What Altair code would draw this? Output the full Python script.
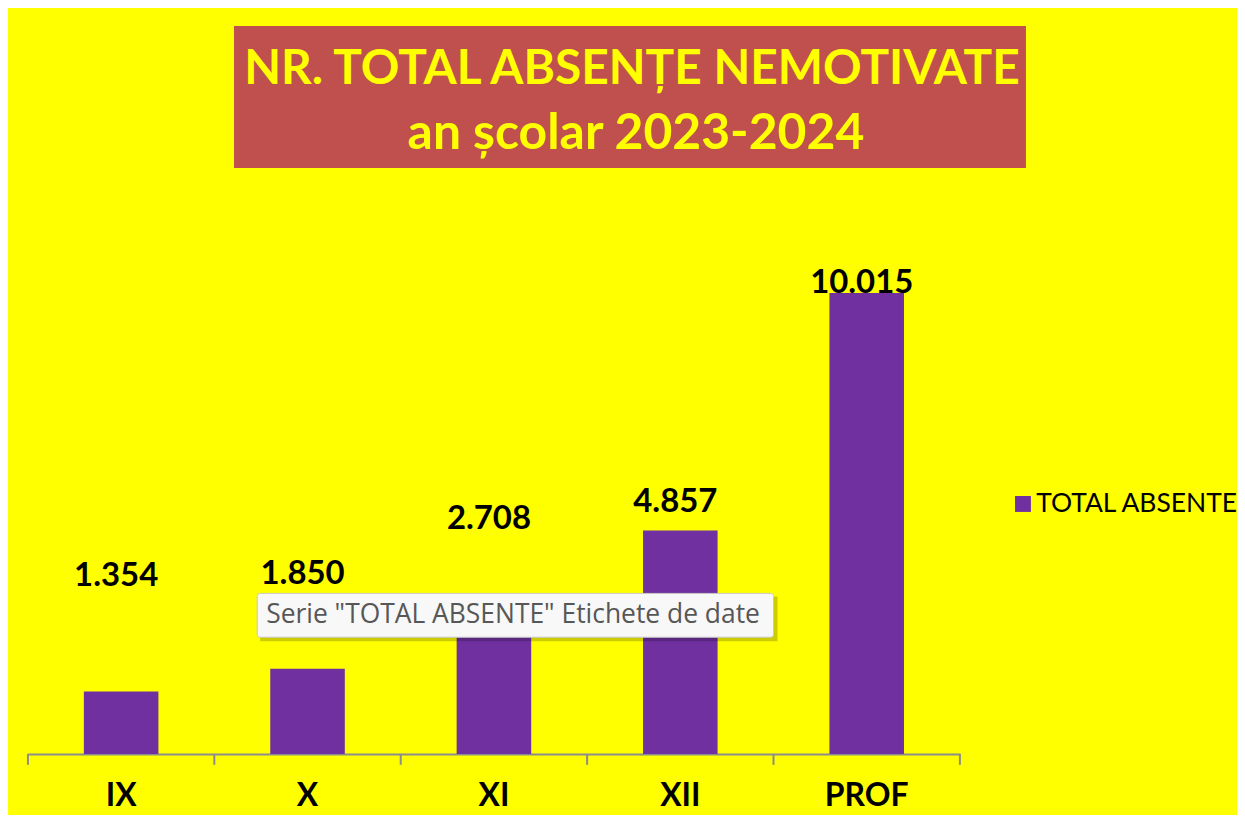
import altair as alt
import pandas as pd

categories = ["IX", "X", "XI", "XII", "PROF"]
values = [1354, 1850, 2708, 4857, 10015]
# where each (manually dragged) data label sits, in data units
label_anchor = [3640, 3690, 4880, 5250, 10016]
series_name = "TOTAL ABSENTE"
title_lines = ["NR. TOTAL ABSENȚE NEMOTIVATE", "an școlar 2023-2024"]
tooltip_text = 'Serie "TOTAL ABSENTE" Etichete de date'
tick_positions = [0, 1, 2, 3, 4, 5]

labels = [f"{v:,}".replace(",", ".") for v in values]

FONT = "Lato"
PURPLE = "#7030A0"
YELLOW = "#FFFF00"

df = pd.DataFrame({
    "cat": categories,
    "val": values,
    "anchor": label_anchor,
    "label": labels,
    "series": [series_name] * len(categories),
})

xscale = alt.Scale(paddingInner=0.6, paddingOuter=0.3)
xenc = alt.X(
    "cat:N", sort=categories, title=None, scale=xscale,
    axis=alt.Axis(labelAngle=0, ticks=False, domain=True, domainColor="#8c8c8c",
                  domainWidth=2, labelFont=FONT, labelFontSize=32,
                  labelFontWeight="bold", labelColor="black", labelPadding=27,
                  grid=False),
)
yscale = alt.Scale(domain=[0, 12000])

bars = alt.Chart(df).mark_bar(color=PURPLE).encode(
    x=xenc,
    y=alt.Y("val:Q", scale=yscale, axis=None),
    color=alt.Color("series:N", scale=alt.Scale(range=[PURPLE]),
                    legend=alt.Legend(orient="none", legendX=985, legendY=290,
                                      title=None, symbolType="square",
                                      symbolSize=256, symbolStrokeWidth=0,
                                      labelFont=FONT, labelFontSize=26.5,
                                      labelColor="black", labelOffset=0,
                                      labelLimit=0, padding=0)),
)

value_labels = alt.Chart(df).mark_text(
    font=FONT, fontSize=33, fontWeight="bold", color="black",
    baseline="alphabetic", dx=-5,
).encode(
    x=alt.X("cat:N", sort=categories, scale=xscale),
    y=alt.Y("anchor:Q", scale=yscale),
    text="label:N",
)

main = alt.layer(bars, value_labels)

ticks = alt.Chart(pd.DataFrame({"pos": tick_positions})).mark_rule(
    color="#8c8c8c", strokeWidth=2
).encode(
    x=alt.X("pos:Q", scale=alt.Scale(domain=[0, 5], nice=False, zero=False), axis=None),
    y=alt.value(554),
    y2=alt.value(565),
)

title_df = pd.DataFrame({"t": [title_lines[0]]})
title_box = alt.Chart(title_df).mark_rect(
    color="#C0504D", stroke=YELLOW, strokeWidth=1.5
).encode(
    x=alt.value(206), x2=alt.value(1002), y=alt.value(-177), y2=alt.value(-33)
)
title1 = alt.Chart(title_df).mark_text(
    font=FONT, fontSize=48, fontWeight="bold", color=YELLOW, baseline="alphabetic"
).encode(x=alt.value(606), y=alt.value(-118), text=alt.value(title_lines[0]))
title2 = alt.Chart(title_df).mark_text(
    font=FONT, fontSize=50, fontWeight="bold", color=YELLOW, baseline="alphabetic"
).encode(x=alt.value(610), y=alt.value(-53), text=alt.value(title_lines[1]))

tip_shadow = alt.Chart(title_df).mark_rect(color="#000000", opacity=0.2).encode(
    x=alt.value(233), x2=alt.value(752), y=alt.value(396), y2=alt.value(441)
)
tip_box = alt.Chart(title_df).mark_rect(
    color="#F8F8F8", stroke="#C8C8C8", strokeWidth=1, cornerRadius=3
).encode(
    x=alt.value(230), x2=alt.value(748), y=alt.value(393), y2=alt.value(437)
)
tip_text = alt.Chart(title_df).mark_text(
    font="Open Sans", fontSize=26.5, color="#575757", align="left", baseline="middle"
).encode(x=alt.value(239), y=alt.value(415), text=alt.value(tooltip_text))

chart = alt.layer(
    main, ticks, title_box, title1, title2, tip_shadow, tip_box, tip_text
).resolve_scale(x="independent").properties(
    width=935, height=554,
    padding={"left": 20, "top": 193, "right": 278, "bottom": 60},
    autosize=alt.AutoSizeParams(type="none"),
    background=YELLOW,
).configure_view(strokeWidth=0)

chart.save("out.html", embed_options={"renderer": "svg", "actions": False})
